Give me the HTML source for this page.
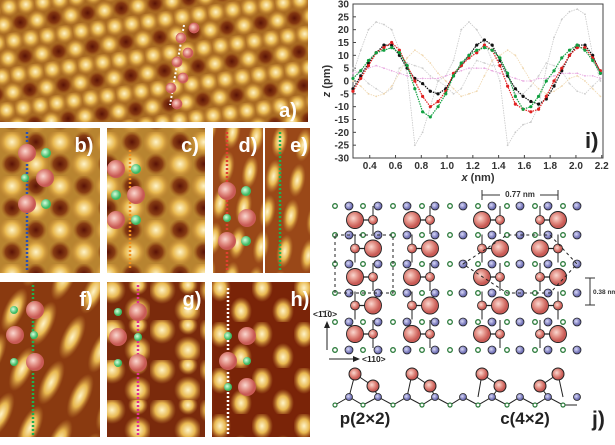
<!DOCTYPE html>
<html><head><meta charset="utf-8"><style>
body{margin:0;background:#fff;width:615px;height:440px;overflow:hidden;font-family:"Liberation Sans",sans-serif}
</style></head><body>
<svg id="fig" width="615" height="440" viewBox="0 0 615 440" xmlns="http://www.w3.org/2000/svg">
<defs>
<radialGradient id="bright"><stop offset="0" stop-color="#fff4c8"/><stop offset="0.5" stop-color="#e8b850"/><stop offset="1" stop-color="#c08030" stop-opacity="0"/></radialGradient>
<radialGradient id="dark"><stop offset="0" stop-color="#5a1206"/><stop offset="0.6" stop-color="#7a2a0c" stop-opacity="0.8"/><stop offset="1" stop-color="#9a5018" stop-opacity="0"/></radialGradient>
<radialGradient id="redball" cx="0.4" cy="0.4"><stop offset="0" stop-color="#fbd8d0"/><stop offset="0.6" stop-color="#e08a80"/><stop offset="1" stop-color="#c85a55"/></radialGradient>
<radialGradient id="greenball" cx="0.4" cy="0.4"><stop offset="0" stop-color="#d8ffe0"/><stop offset="1" stop-color="#3cb860"/></radialGradient>
<radialGradient id="blueball" cx="0.4" cy="0.4"><stop offset="0" stop-color="#d8d8f8"/><stop offset="1" stop-color="#6a6ab0"/></radialGradient>
<pattern id="hexA" width="34" height="34" patternUnits="userSpaceOnUse" patternTransform="rotate(-8)">
<rect width="34" height="34" fill="#a86a22"/>
<circle cx="8" cy="8" r="10" fill="url(#bright)"/><circle cx="25" cy="8" r="10" fill="url(#bright)"/>
<circle cx="17" cy="25" r="9" fill="url(#dark)"/><circle cx="0" cy="25" r="10" fill="url(#bright)"/><circle cx="34" cy="25" r="10" fill="url(#bright)"/>
</pattern>
<pattern id="patB" width="48" height="44" patternUnits="userSpaceOnUse">
<rect width="48" height="44" fill="#b88430"/><circle cx="12" cy="10" r="14" fill="url(#bright)"/><circle cx="36" cy="32" r="14" fill="url(#bright)"/>
<circle cx="36" cy="10" r="11" fill="url(#dark)"/><circle cx="12" cy="32" r="11" fill="url(#dark)"/>
</pattern>
<pattern id="patD" width="24" height="36" patternUnits="userSpaceOnUse" patternTransform="rotate(10)">
<rect width="24" height="36" fill="#9a4818"/><ellipse cx="12" cy="18" rx="8" ry="17" fill="url(#bright)"/>
</pattern>
<pattern id="patF" width="32" height="50" patternUnits="userSpaceOnUse" patternTransform="rotate(25)">
<rect width="32" height="50" fill="#8a3a10"/><ellipse cx="16" cy="25" rx="10" ry="24" fill="url(#bright)"/>
</pattern>
<pattern id="patG" width="50" height="40" patternUnits="userSpaceOnUse">
<rect width="50" height="40" fill="#7a2a0c"/><circle cx="12" cy="10" r="14" fill="url(#bright)"/><circle cx="38" cy="30" r="14" fill="url(#bright)"/><circle cx="38" cy="5" r="10" fill="url(#bright)"/>
</pattern>
<pattern id="patH" width="42" height="46" patternUnits="userSpaceOnUse">
<rect width="42" height="46" fill="#7a2408"/><ellipse cx="10" cy="12" rx="11" ry="14" fill="url(#bright)"/><ellipse cx="31" cy="35" rx="11" ry="14" fill="url(#bright)"/>
</pattern>
</defs>

<g>
<rect x="0" y="0" width="308" height="122" fill="url(#hexA)"/>
<line x1="184" y1="25" x2="170" y2="105" stroke="#fff" stroke-width="2" stroke-dasharray="2,2"/>
<g fill="url(#redball)" stroke="#d06060" stroke-width="0.7"><circle cx="194" cy="28" r="5"/><circle cx="181" cy="38" r="5"/><circle cx="188" cy="53" r="5"/><circle cx="177" cy="62" r="5"/><circle cx="183" cy="78" r="5"/><circle cx="171" cy="88" r="5"/><circle cx="177" cy="104" r="5"/></g>
<text x="288" y="117" font-size="20" font-weight="bold" fill="#fff" text-anchor="middle">a)</text>
</g>

<g>
<rect x="0" y="128" width="100" height="145" fill="url(#patB)"/>
<line x1="27" y1="132" x2="27" y2="270" stroke="#2a50b0" stroke-width="2.5" stroke-dasharray="2,2"/>
<circle cx="27" cy="153" r="9" fill="url(#redball)"/><circle cx="45" cy="178" r="9" fill="url(#redball)"/><circle cx="27" cy="204" r="9" fill="url(#redball)"/>
<circle cx="46" cy="153" r="5" fill="url(#greenball)"/><circle cx="25" cy="178" r="4" fill="url(#greenball)"/><circle cx="46" cy="204" r="5" fill="url(#greenball)"/>
<text x="84" y="152" font-size="20" font-weight="bold" fill="#fff" text-anchor="middle">b)</text>
</g>
<g>
<rect x="107" y="128" width="98" height="145" fill="url(#patB)"/>
<line x1="130" y1="150" x2="130" y2="270" stroke="#f09020" stroke-width="2.5" stroke-dasharray="2,2"/>
<circle cx="116" cy="169" r="9" fill="url(#redball)"/><circle cx="136" cy="195" r="9" fill="url(#redball)"/><circle cx="116" cy="220" r="9" fill="url(#redball)"/>
<circle cx="136" cy="169" r="5" fill="url(#greenball)"/><circle cx="116" cy="195" r="5" fill="url(#greenball)"/><circle cx="136" cy="220" r="5" fill="url(#greenball)"/>
<text x="190" y="152" font-size="20" font-weight="bold" fill="#fff" text-anchor="middle">c)</text>
</g>
<g>
<rect x="213" y="128" width="50" height="145" fill="url(#patD)"/>
<line x1="227" y1="132" x2="227" y2="270" stroke="#e04030" stroke-width="2.5" stroke-dasharray="2,2"/>
<circle cx="227" cy="191" r="9" fill="url(#redball)"/><circle cx="247" cy="218" r="9" fill="url(#redball)"/><circle cx="227" cy="241" r="9" fill="url(#redball)"/>
<circle cx="246" cy="191" r="5" fill="url(#greenball)"/><circle cx="227" cy="218" r="4" fill="url(#greenball)"/><circle cx="246" cy="241" r="5" fill="url(#greenball)"/>
<text x="248" y="152" font-size="20" font-weight="bold" fill="#fff" text-anchor="middle">d)</text>
</g>
<g>
<rect x="265" y="128" width="45" height="145" fill="url(#patD)"/>
<line x1="280" y1="132" x2="280" y2="270" stroke="#20b050" stroke-width="2.5" stroke-dasharray="2,2"/>
<text x="299" y="152" font-size="20" font-weight="bold" fill="#fff" text-anchor="middle">e)</text>
</g>
<g>
<rect x="0" y="282" width="100" height="155" fill="url(#patF)"/>
<line x1="33" y1="285" x2="33" y2="435" stroke="#20b050" stroke-width="2.5" stroke-dasharray="2,2"/>
<circle cx="35" cy="310" r="9" fill="url(#redball)"/><circle cx="15" cy="335" r="9" fill="url(#redball)"/><circle cx="35" cy="362" r="9" fill="url(#redball)"/>
<circle cx="14" cy="310" r="4" fill="url(#greenball)"/><circle cx="34" cy="335" r="4" fill="url(#greenball)"/><circle cx="14" cy="362" r="4" fill="url(#greenball)"/>
<text x="86" y="306" font-size="20" font-weight="bold" fill="#fff" text-anchor="middle">f)</text>
</g>
<g>
<rect x="107" y="282" width="98" height="155" fill="url(#patG)"/>
<line x1="138" y1="285" x2="138" y2="435" stroke="#e03090" stroke-width="2.5" stroke-dasharray="2,2"/>
<circle cx="138" cy="312" r="9" fill="url(#redball)"/><circle cx="118" cy="337" r="9" fill="url(#redball)"/><circle cx="138" cy="363" r="9" fill="url(#redball)"/>
<circle cx="118" cy="312" r="4" fill="url(#greenball)"/><circle cx="138" cy="337" r="4" fill="url(#greenball)"/><circle cx="118" cy="363" r="4" fill="url(#greenball)"/>
<text x="192" y="306" font-size="20" font-weight="bold" fill="#fff" text-anchor="middle">g)</text>
</g>
<g>
<rect x="212" y="282" width="98" height="155" fill="url(#patH)"/>
<line x1="228" y1="288" x2="228" y2="435" stroke="#fff" stroke-width="2.5" stroke-dasharray="2,2"/>
<circle cx="247" cy="336" r="9" fill="url(#redball)"/><circle cx="228" cy="361" r="9" fill="url(#redball)"/><circle cx="247" cy="387" r="9" fill="url(#redball)"/>
<circle cx="228" cy="336" r="4" fill="url(#greenball)"/><circle cx="247" cy="361" r="4" fill="url(#greenball)"/><circle cx="228" cy="387" r="4" fill="url(#greenball)"/>
<text x="300" y="306" font-size="20" font-weight="bold" fill="#fff" text-anchor="middle">h)</text>
</g>

<g id="chart"></g>
<g id="diagram"></g>
</svg>
<script>
const NS="http://www.w3.org/2000/svg";
const xValues=[0.27,0.33,0.39,0.45,0.51,0.57,0.63,0.69,0.75,0.81,0.87,0.93,0.99,1.05,1.11,1.17,1.23,1.29,1.35,1.41,1.47,1.53,1.59,1.65,1.71,1.77,1.83,1.89,1.95,2.01,2.07,2.13,2.19];
const blackSeries=[-3,2,7,11,14,14,10,5,1,-1,-4,-5,-3,2,6,10,14,16,14,8,2,-3,-6,-8,-9,-7,-2,4,10,14,14,10,3];
const redSeries=[-4,1,6,11,13,15,12,6,0,-6,-10,-8,-4,3,6,9,11,14,12,6,-2,-9,-11,-12,-11,-6,0,5,10,13,13,9,4];
const greenSeries=[1,4,8,11,12,13,11,6,-3,-12,-14,-10,-5,2,7,10,12,13,12,9,3,-6,-11,-10,-6,0,4,9,12,14,12,8,3];
const greySeries1=[3,12,20,23,22,20,12,3,-25,-20,-10,0,2,8,20,23,20,15,8,0,-25,-20,-17,-16,-10,5,17,24,27,28,26,10,0];
const greySeries2=[5,2,-1,-3,-5,-3,5,7,6,5,2,0,-2,-5,-3,3,8,7,6,6,2,-5,-5,-2,2,7,6,4,-1,-4,-5,-2,1];
const orangeSeries=[0,-2,-5,-6,-5,-2,3,9,12,10,7,3,0,-3,-6,-5,-4,2,8,10,12,10,5,0,-3,-5,-4,-2,1,2,0,-3,-6];
const pinkSeries=[3,4,5,6,5,4,3,2,1,1,1,1,2,3,4,5,5,5,4,3,2,1,0,0,1,1,2,3,3,3,2,2,1];
const xTicks=[0.4,0.6,0.8,1.0,1.2,1.4,1.6,1.8,2.0,2.2];
const yTicks=[-30,-25,-20,-15,-10,-5,0,5,10,15,20,25,30];
const L=353,R=603,T=4,B=158,X0=0.27,X1=2.21;
const sx=v=>L+(v-X0)/(X1-X0)*(R-L), sy=v=>B-(v+30)/60*(B-T);
const chart=document.getElementById('chart');
function mk(tag,attrs,parent){const e=document.createElementNS(NS,tag);for(const k in attrs)e.setAttribute(k,attrs[k]);(parent||chart).appendChild(e);return e;}
const frame=mk('rect',{x:L,y:T,width:R-L,height:B-T,fill:'none',stroke:'#444','stroke-width':1});


yTicks.forEach(t=>{
 mk('line',{x1:L,x2:L+3,y1:sy(t),y2:sy(t),stroke:'#444'});
 const tx=mk('text',{x:L-4,y:sy(t)+3.5,'font-size':10,'font-weight':'bold','text-anchor':'end',fill:'#333'});
 tx.textContent=t;
 
 
});
xTicks.forEach(t=>{
 mk('line',{x1:sx(t),x2:sx(t),y1:B,y2:B-3,stroke:'#444'});
 const tx=mk('text',{x:sx(t),y:B+11,'font-size':10,'font-weight':'bold','text-anchor':'middle',fill:'#333'});
 tx.textContent=t.toFixed(1);
 
 
});
const xt=mk('text',{x:(L+R)/2,y:181,'font-size':11,'font-weight':'bold','text-anchor':'middle',fill:'#333'});
xt.innerHTML='<tspan font-style="italic">x</tspan> (nm)';


const yt=mk('text',{transform:`translate(330,${(T+B)/2}) rotate(-90)`,'font-size':11,'font-weight':'bold','text-anchor':'middle',fill:'#333'});
yt.innerHTML='<tspan font-style="italic">z</tspan> (pm)';


const il=mk('text',{x:585,y:148,'font-size':22,'font-weight':'bold',fill:'#222'});
il.textContent='i)';


const series=[[greySeries1,'#c8c8c8','grey-series-1'],[greySeries2,'#cfcfcf','grey-series-2'],[orangeSeries,'#f0d8b0','orange-series'],[pinkSeries,'#e8a8e0','pink-series'],[blackSeries,'#111','black-series'],[redSeries,'#e02020','red-series'],[greenSeries,'#10a040','green-series']];
series.forEach(([vals,col,name])=>{
 const g=mk('g',{});
 
 
 const bold=!(col.startsWith('#c')||col.startsWith('#e8')||col.startsWith('#f0'));
 mk('polyline',{points:vals.map((v,i)=>sx(xValues[i])+','+sy(v)).join(' '),fill:'none',stroke:col,'stroke-width':bold?1.2:0.8,'stroke-dasharray':'1.5,1'},g);
 vals.forEach((v,i)=>{const p=mk('circle',{cx:sx(xValues[i]),cy:sy(v),r:bold?1.6:0.9,fill:col},g);
 
 });
});
// diagram
const D=document.getElementById('diagram');
function dk(tag,attrs){return mk(tag,attrs,D);}
const colX=[335,349,363,378,393,407,422,435,450,463,478,492,507,520,535,548,563,577];
const rowY=[206,235,264,293,322,350];
dk('line',{x1:482,x2:558,y1:195,y2:195,stroke:'#333'});
dk('line',{x1:482,x2:482,y1:190,y2:200,stroke:'#333'});dk('line',{x1:558,x2:558,y1:190,y2:200,stroke:'#333'});
dk('rect',{x:500,y:189,width:40,height:10,fill:'#fff'});
const s1=dk('text',{x:520,y:197,'font-size':8,'font-weight':'bold','text-anchor':'middle',fill:'#333'});s1.textContent='0.77 nm';


function chain(xa,xb){
 for(let r=0;r<5;r++){const y=220+r*28.5;const big=(r%2==0)?xa:xb,small=(r%2==0)?xb:xa;
  dk('line',{x1:big,y1:y,x2:small,y2:y,stroke:'#222','stroke-width':1.2});
  dk('line',{x1:small,y1:y,x2:small,y2:y+14,stroke:'#222','stroke-width':1});
  dk('line',{x1:small,y1:y,x2:small,y2:y-14,stroke:'#222','stroke-width':1});}
}
const chains=[[355,373],[412,430],[482,500],[558,540]];
chains.forEach(c=>chain(...c));
rowY.forEach((y,ri)=>colX.forEach((x,ci)=>{
 const blue=(ci%2==1);
 const a=dk('circle',{cx:x,cy:y,r:blue?4:2.3,fill:blue?'url(#blueball)':'#fff',stroke:blue?'#222':'#2a7a3a','stroke-width':blue?0.8:1.3});
 
 
}));
chains.forEach(([xa,xb])=>{for(let r=0;r<5;r++){const y=220+r*28.5;const big=(r%2==0)?xa:xb,small=(r%2==0)?xb:xa;
 const a=dk('circle',{cx:big,cy:y,r:8.5,fill:'url(#redball)',stroke:'#222','stroke-width':0.9});
 
 
 const b=dk('circle',{cx:small,cy:y,r:4.5,fill:'url(#redball)',stroke:'#222','stroke-width':0.8});
 
 }});
dk('rect',{x:335,y:235,width:58,height:58,fill:'none',stroke:'#222','stroke-dasharray':'3,3'});
dk('path',{d:'M463 264 L507 235 L550 235 L577 264 L550 293 L507 293 Z',fill:'none',stroke:'#222','stroke-dasharray':'3,3'});
dk('line',{x1:590,x2:590,y1:278,y2:305,stroke:'#333'});dk('line',{x1:585,x2:595,y1:278,y2:278,stroke:'#333'});dk('line',{x1:585,x2:595,y1:305,y2:305,stroke:'#333'});
const s2=dk('text',{x:593,y:294,'font-size':6.5,'font-weight':'bold',fill:'#333'});s2.textContent='0.38 nm';


dk('line',{x1:327,y1:350,x2:327,y2:326,stroke:'#222'});dk('path',{d:'M324 328 L327 321 L330 328Z',fill:'#222'});
dk('line',{x1:329,y1:359,x2:356,y2:359,stroke:'#222'});dk('path',{d:'M353 356 L360 359 L353 362Z',fill:'#222'});
const a1=dk('text',{x:313,y:317,'font-size':8.5,'font-weight':'bold',fill:'#222'});a1.textContent='<1\u03041\u03050>';


const a2=dk('text',{x:362,y:362,'font-size':8.5,'font-weight':'bold',fill:'#222'});a2.textContent='<110>';


dk('polyline',{points:'335,405 349,397 363,405 378,397 393,405 407,397 422,405 435,397 450,405 463,397 478,405 492,397 507,405 520,397 535,405 548,397 563,405 577,405',fill:'none',stroke:'#222'});
[[355,374,373,386,349,378],[412,374,430,386,407,435],[482,374,500,386,478,492],[558,374,540,386,563,548]].forEach(([x1,y1,x2,y2,b1,b2])=>{
 dk('line',{x1:x1,y1:y1,x2:x2,y2:y2,stroke:'#222'});dk('line',{x1:x1,y1:y1,x2:b1,y2:397,stroke:'#222'});dk('line',{x1:x2,y1:y2,x2:b2,y2:397,stroke:'#222'});
 dk('circle',{cx:x1,cy:y1,r:6,fill:'url(#redball)',stroke:'#222'});dk('circle',{cx:x2,cy:y2,r:6,fill:'url(#redball)',stroke:'#222'});
});
[349,378,407,435,463,492,520,548,577].forEach(x=>dk('circle',{cx:x,cy:397,r:3.5,fill:'url(#blueball)',stroke:'#222','stroke-width':0.8}));
[335,363,393,422,450,478,507,535,563].forEach(x=>dk('circle',{cx:x,cy:405,r:2,fill:'#fff',stroke:'#2a7a3a','stroke-width':1.2}));
const p1=dk('text',{x:365,y:424,'font-size':17,'font-weight':'bold','text-anchor':'middle',fill:'#222'});p1.textContent='p(2\u00d72)';


const p2=dk('text',{x:525,y:424,'font-size':17,'font-weight':'bold','text-anchor':'middle',fill:'#222'});p2.textContent='c(4\u00d72)';


const pj=dk('text',{x:592,y:426,'font-size':21,'font-weight':'bold',fill:'#222'});pj.textContent='j)';


</script>
</body></html>
